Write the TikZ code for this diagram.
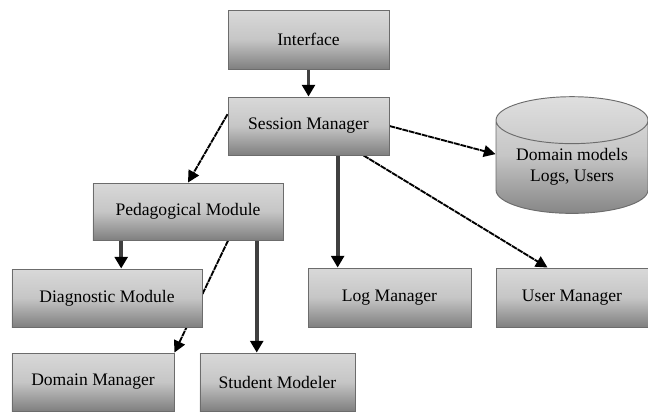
\documentclass[tikz,border=0pt]{standalone}
\usepackage{fontspec}
\setmainfont{Liberation Serif}
\usepackage{tikz}
\usetikzlibrary{calc, arrows.meta, shapes.geometric, backgrounds}

\tikzset{
  box/.style={rectangle, draw=gray!85!black, line width=0.8pt, top color=gray!30, bottom color=gray!100, middle color=gray!45, inner sep=0pt, font=\fontsize{15}{18}\selectfont},
  dbase/.style={cylinder, shape border rotate=90, aspect=0.42, draw=gray!85!black, line width=0.8pt, top color=gray!25, bottom color=gray!95, middle color=gray!45, inner sep=0pt, align=center, font=\fontsize{15}{18}\selectfont},
  grayarrow/.style={draw=gray!50!black, line width=3.4pt, -{Triangle[color=black,length=10pt,width=11pt]}},
  darkarrow/.style={draw=black, line width=1.6pt, dash pattern=on 5pt off 0.7pt, -{Triangle[color=black,length=10pt,width=10pt]}}
}

\begin{document}
\begin{tikzpicture}[x=0.03cm,y=-0.03cm]
\useasboundingbox (0,0) rectangle (648,411);

% Boxes
\node[box, minimum width=4.83cm, minimum height=1.77cm] (iface) at (308.5,39.5) {Interface};
\node[box, minimum width=4.83cm, minimum height=1.74cm] (session) at (308.5,126) {Session Manager};
\node[dbase, minimum width=4.56cm, minimum height=3.5cm] (db) at (572,167) {Domain models\\Logs, Users};
\node[box, minimum width=5.7cm, minimum height=1.71cm] (ped) at (188,211.5) {Pedagogical Module};
\node[box, minimum width=5.7cm, minimum height=1.74cm] (diag) at (107,298) {Diagnostic Module};
\node[box, minimum width=4.89cm, minimum height=1.77cm] (log) at (389.5,297.5) {Log Manager};
\node[box, minimum width=4.56cm, minimum height=1.77cm] (user) at (572,297.5) {User Manager};
\node[box, minimum width=4.86cm, minimum height=1.74cm] (domain) at (93,382) {Domain Manager};
\node[box, minimum width=4.65cm, minimum height=1.74cm] (student) at (277.5,382) {Student Modeler};

% Connectors, behind the boxes
\begin{scope}[on background layer]
\draw[grayarrow] (iface) -- (session);
\draw[darkarrow] ($(session.north west)!0.3!(session.south west)$) -- (ped.north);
\draw[darkarrow] (session.east) -- ([yshift=11pt]db.west);
\draw[grayarrow] ($(session.south west)!0.68!(session.south east)$) coordinate (s1) -- (s1 |- log.north);
\draw[darkarrow] ($(session.south west)!0.84!(session.south east)$) -- ($(user.north west)!0.34!(user.north east)$);
\draw[grayarrow] ($(ped.south west)!0.15!(ped.south east)$) coordinate (p1) -- (p1 |- diag.north);
\draw[darkarrow] ($(ped.south west)!0.71!(ped.south east)$) -- (domain.north east);
\draw[grayarrow] ($(ped.south west)!0.86!(ped.south east)$) coordinate (p3) -- (p3 |- student.north);
\end{scope}

\end{tikzpicture}
\end{document}
